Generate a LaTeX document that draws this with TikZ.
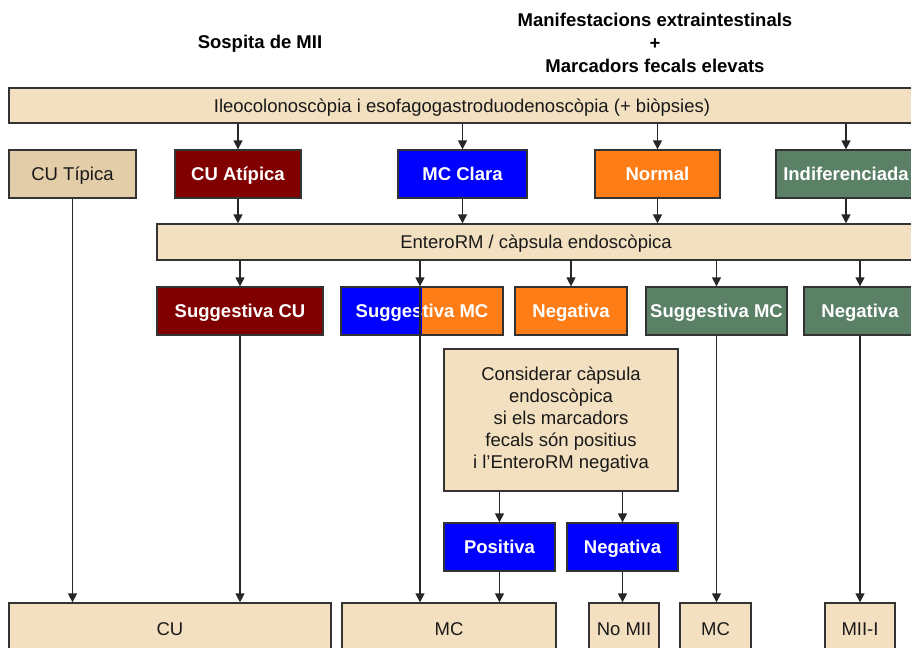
\documentclass[tikz,border=0pt]{standalone}
\usepackage{fontspec}
\setmainfont{Liberation Sans}
\usetikzlibrary{arrows.meta}
\definecolor{paletan}{HTML}{F3E0C0}
\definecolor{sandtan}{HTML}{E2CDA8}
\definecolor{wine}{HTML}{800000}
\definecolor{mcblue}{HTML}{0000FF}
\definecolor{orang}{HTML}{FF7D17}
\definecolor{sage}{HTML}{5A8066}
\newcommand{\txt}{\fontsize{18.5}{22}\selectfont}
\tikzstyle{box}=[rectangle,draw=black!80,line width=1.3pt,inner sep=0pt,text=black!90,font=\txt,text height=13.3pt,text depth=0pt]
\tikzstyle{pale}=[box,fill=paletan]
\tikzstyle{sand}=[box,fill=sandtan]
\tikzstyle{hot}=[box,text=white,font=\txt\bfseries]
\tikzstyle{flow}=[draw=black!85,line width=1.3pt,-{Triangle[length=9pt,width=9pt]}]

\begin{document}
\begin{tikzpicture}[x=1pt,y=-1pt]
    \clip (0,0) rectangle (911,648);
    \fill[white] (0,0) rectangle (911,648);
    % titles
    \node[font=\txt\bfseries] (t1) at (260,44) {Sospita de MII};
    \node[font=\fontsize{18.5}{23}\selectfont\bfseries,align=center] (t2) at (655,43)
        {Manifestacions extraintestinals\\+\\Marcadors fecals elevats};
    % first step
    \node[pale,minimum width=906,minimum height=35] (ileo) at (462,105.5)
        {Ileocolonoscòpia i esofagogastroduodenoscòpia (+ biòpsies)};
    \node[sand,minimum width=127,minimum height=48] (ct) at (72.5,174) {CU Típica};
    \node[hot,fill=wine,minimum width=126,minimum height=48] (ca) at (238,174) {CU Atípica};
    \node[hot,fill=mcblue,minimum width=129,minimum height=48] (mcc) at (462.5,174) {MC Clara};
    \node[hot,fill=orang,minimum width=125,minimum height=48] (nor) at (657.5,174) {Normal};
    \node[hot,fill=sage,minimum width=140,minimum height=48] (ind) at (846,174) {Indiferenciada};
    % second step
    \node[pale,minimum width=758,minimum height=36] (ent) at (536,242)
        {EnteroRM / càpsula endoscòpica};
    \node[hot,fill=wine,minimum width=166,minimum height=48] (scu) at (240,311) {Suggestiva CU};
    \node[hot,minimum width=162,minimum height=48,fill=orang,
        path picture={\fill[mcblue] (path picture bounding box.south west) rectangle (path picture bounding box.north);}]
        (smc) at (422,311) {Suggestiva MC};
    \node[hot,fill=orang,minimum width=112,minimum height=48] (ngo) at (571,311) {Negativa};
    \node[hot,fill=sage,minimum width=141,minimum height=48] (smg) at (716.5,311) {Suggestiva MC};
    \node[hot,fill=sage,minimum width=112,minimum height=48] (ngg) at (860,311) {Negativa};
    % capsula
    \node[rectangle,draw=black!80,line width=1.3pt,fill=paletan,text=black!90,font=\txt,
        minimum width=234,minimum height=142,align=center] (cons) at (561,420)
        {Considerar càpsula\\endoscòpica\\si els marcadors\\fecals són positius\\i l’EnteroRM negativa};
    \node[hot,fill=mcblue,minimum width=111,minimum height=48] (pos) at (499.5,547) {Positiva};
    \node[hot,fill=mcblue,minimum width=111,minimum height=48] (ngb) at (622.5,547) {Negativa};
    % diagnosis
    \node[pale,minimum width=322,minimum height=52] (cu) at (170,629) {CU};
    \node[pale,minimum width=214,minimum height=52] (mc) at (449,629) {MC};
    \node[pale,minimum width=70,minimum height=52] (nomii) at (624,629) {No MII};
    \node[pale,minimum width=71,minimum height=52] (mcb) at (715.5,629) {MC};
    \node[pale,minimum width=70,minimum height=52] (mii) at (860,629) {MII-I};
    \coordinate (k) at (420,311);

    \draw[flow] (ca |- ileo.south) -- (ca);
    \draw[flow] (mcc |- ileo.south) -- (mcc);
    \draw[flow] (nor |- ileo.south) -- (nor);
    \draw[flow] (ind |- ileo.south) -- (ind);
    \draw[flow] (ca.south) -- (ca.south |- ent.north);
    \draw[flow] (mcc.south) -- (mcc.south |- ent.north);
    \draw[flow] (nor.south) -- (nor.south |- ent.north);
    \draw[flow] (ind.south) -- (ind.south |- ent.north);
    \draw[flow] (scu |- ent.south) -- (scu);
    \draw[flow] (k |- ent.south) -- (k |- smc.north);
    \draw[flow] (ngo |- ent.south) -- (ngo);
    \draw[flow] (smg |- ent.south) -- (smg);
    \draw[flow] (ngg |- ent.south) -- (ngg);
    \draw[flow] (pos |- cons.south) -- (pos);
    \draw[flow] (ngb |- cons.south) -- (ngb);
    \draw[flow] (ct.south) -- (ct.south |- cu.north);
    \draw[flow] (scu.south) -- (scu.south |- cu.north);
    \draw[flow] (k |- smc.north) -- (k |- mc.north);
    \draw[flow] (pos.south) -- (pos.south |- mc.north);
    \draw[flow] (ngb.south) -- (ngb.south |- nomii.north);
    \draw[flow] (smg.south) -- (smg.south |- mcb.north);
    \draw[flow] (ngg.south) -- (ngg.south |- mii.north);
\end{tikzpicture}
\end{document}
